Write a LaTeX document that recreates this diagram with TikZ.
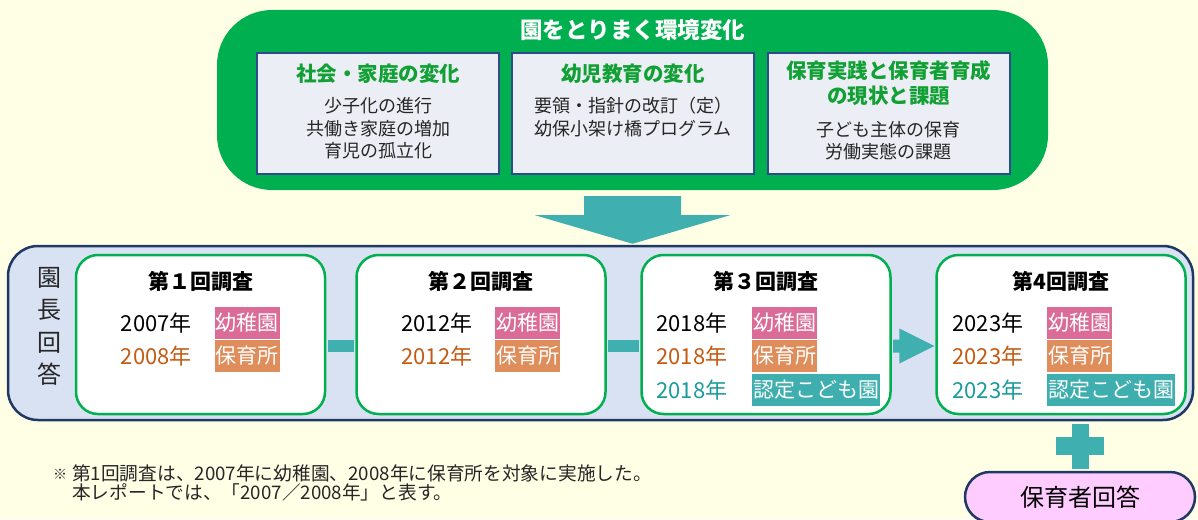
\documentclass[tikz,border=0pt]{standalone}
\usepackage{fontspec}
\setmainfont{Noto Sans CJK JP}
\usetikzlibrary{calc}
\definecolor{bg}{HTML}{FFFFE6}
\definecolor{grn}{HTML}{00B050}
\definecolor{ifill}{HTML}{EBEEF4}
\definecolor{ibord}{HTML}{2F4B8C}
\definecolor{headg}{HTML}{11A033}
\definecolor{tealc}{HTML}{40AFB0}
\definecolor{pfill}{HTML}{D9E2F3}
\definecolor{navy}{HTML}{1F3864}
\definecolor{pinkl}{HTML}{DB6C98}
\definecolor{orangel}{HTML}{DF8D5A}
\definecolor{teall}{HTML}{3FAEAE}
\definecolor{yorange}{HTML}{C55A11}
\definecolor{yteal}{HTML}{1A9B9C}
\definecolor{pillc}{HTML}{FFCCFF}
\definecolor{bodyc}{HTML}{262626}
\tikzset{
  envbox/.style={fill=grn, rounded corners=55pt, minimum width=831pt, minimum height=180pt, inner sep=0pt},
  ibox/.style={draw=ibord, line width=2pt, fill=ifill, minimum width=242pt, minimum height=121pt, inner sep=0pt},
  ihead/.style={text=headg, font=\bfseries\fontsize{20.5}{25}\selectfont, align=center, inner sep=0pt},
  ibody/.style={text=bodyc, font=\fontsize{18}{22.5}\selectfont, align=center, inner sep=0pt},
  panelbox/.style={draw=navy, line width=2.5pt, fill=pfill, rounded corners=30pt, minimum width=1185pt, minimum height=174pt, inner sep=0pt},
  sbox/.style={draw=grn, line width=2.5pt, fill=white, rounded corners=22pt, minimum width=249pt, minimum height=159pt, inner sep=0pt},
  stitle/.style={font=\bfseries\fontsize{21}{25}\selectfont, inner sep=0pt},
  yeartxt/.style={font=\fontsize{22}{25}\selectfont, anchor=west, inner sep=0pt},
  lab/.style={font=\fontsize{21}{25}\selectfont, text=white, anchor=west, inner xsep=1pt, inner ysep=0pt, minimum height=32pt},
  bar/.style={line width=12pt, tealc},
  pill/.style={draw=navy, line width=2.5pt, fill=pillc, rounded corners=25pt, minimum width=230pt, minimum height=50pt, font=\fontsize{24}{28}\selectfont},
}
\begin{document}
\begin{tikzpicture}[x=1pt,y=-1pt]
\useasboundingbox[fill=bg] (0,0) rectangle (1198,519);

% environment box
\node[envbox] (env) at (632.5,100) {};
\node[font=\bfseries\fontsize{22.5}{26}\selectfont, text=white, inner sep=0pt] (envt) at (632.5,30) {園をとりまく環境変化};

\node[ibox] (b1) at (378,113.5) {};
\node[ibox] (b2) at (633,113.5) {};
\node[ibox] (b3) at (888.5,113.5) {};

\node[ihead] (h1) at ([yshift=-22pt]b1.north) {社会・家庭の変化};
\node[ibody] (t1) at ([yshift=-76.5pt]b1.north) {少子化の進行\\共働き家庭の増加\\育児の孤立化};
\node[ihead] (h2) at ([yshift=-22pt]b2.north) {幼児教育の変化};
\node[ibody] (t2) at ([yshift=-65pt]b2.north) {要領・指針の改訂（定）\\幼保小架け橋プログラム};
\node[ihead] (h3) at ([yshift=-31.5pt]b3.north) {保育実践と保育者育成\\の現状と課題};
\node[ibody] (t3) at ([yshift=-88.5pt]b3.north) {子ども主体の保育\\労働実態の課題};

% panel
\node[panelbox] (panel) at (600.5,333) {};
\node[font=\fontsize{24}{32.5}\selectfont, align=center, inner sep=0pt, text=bodyc] (enc) at (49,326.5) {園\\長\\回\\答};

% down arrow
\coordinate (dtop) at ([yshift=-6pt]env.south);
\coordinate (dtip) at ([yshift=1pt]panel.north -| dtop);
\fill[tealc] ($(dtop)+(-48.5,0)$) -- ($(dtop)+(48.5,0)$) -- ($(dtop)+(48.5,19)$) -- ($(dtop)+(97.5,19)$) -- (dtip) -- ($(dtop)+(-97.5,19)$) -- ($(dtop)+(-48.5,19)$) -- cycle;

% survey boxes
\node[sbox] (s1) at (200.5,334.5) {};
\node[sbox] (s2) at (481,334.5) {};
\node[sbox] (s3) at (766,334.5) {};
\node[sbox] (s4) at (1061,334.5) {};

\node[stitle] (st1) at ([yshift=-28pt]s1.north) {第１回調査};
\node[stitle] (st2) at ([yshift=-28pt]s2.north) {第２回調査};
\node[stitle] (st3) at ([yshift=-28pt]s3.north) {第３回調査};
\node[stitle] (st4) at ([yshift=-28pt]s4.north) {第4回調査};

% box 1
\node[yeartxt] (y11) at ($(s1.west)+(46,-11.5)$) {2007年};
\node[yeartxt, text=yorange] (y12) at ($(s1.west)+(46,21.5)$) {2008年};
\node[lab, fill=pinkl] (l11) at ($(s1.west)+(140,-11.5)$) {幼稚園};
\node[lab, fill=orangel] (l12) at ($(s1.west)+(140,21.5)$) {保育所};
% box 2
\node[yeartxt] (y21) at ($(s2.west)+(46,-11.5)$) {2012年};
\node[yeartxt, text=yorange] (y22) at ($(s2.west)+(46,21.5)$) {2012年};
\node[lab, fill=pinkl] (l21) at ($(s2.west)+(140,-11.5)$) {幼稚園};
\node[lab, fill=orangel] (l22) at ($(s2.west)+(140,21.5)$) {保育所};
% box 3
\node[yeartxt] (y31) at ($(s3.west)+(16,-11.5)$) {2018年};
\node[yeartxt, text=yorange] (y32) at ($(s3.west)+(16,21.5)$) {2018年};
\node[yeartxt, text=yteal] (y33) at ($(s3.west)+(16,55.5)$) {2018年};
\node[lab, fill=pinkl] (l31) at ($(s3.west)+(112,-11.5)$) {幼稚園};
\node[lab, fill=orangel] (l32) at ($(s3.west)+(112,21.5)$) {保育所};
\node[lab, fill=teall] (l33) at ($(s3.west)+(112,55.5)$) {認定こども園};
% box 4
\node[yeartxt] (y41) at ($(s4.west)+(17,-11.5)$) {2023年};
\node[yeartxt, text=yorange] (y42) at ($(s4.west)+(17,21.5)$) {2023年};
\node[yeartxt, text=yteal] (y43) at ($(s4.west)+(17,55.5)$) {2023年};
\node[lab, fill=pinkl] (l41) at ($(s4.west)+(112,-11.5)$) {幼稚園};
\node[lab, fill=orangel] (l42) at ($(s4.west)+(112,21.5)$) {保育所};
\node[lab, fill=teall] (l43) at ($(s4.west)+(112,55.5)$) {認定こども園};

% connectors
\draw[bar] ($(s1.east)+(1.25,11.5)$) -- ($(s2.west)+(-1.25,11.5)$);
\draw[bar] ($(s2.east)+(1.25,11.5)$) -- ($(s3.west)+(-1.25,11.5)$);
\coordinate (ra) at ($(s3.east)+(1.25,11.5)$);
\coordinate (rb) at ($(s4.west)+(-1,11.5)$);
\fill[tealc] ($(ra)+(0,-6.5)$) -- ($(rb)+(-35,-6.5)$) -- ($(rb)+(-35,-17.5)$) -- (rb) -- ($(rb)+(-35,17.5)$) -- ($(rb)+(-35,6.5)$) -- ($(ra)+(0,6.5)$) -- cycle;

% plus and pill
\node[pill] (hog) at (1080,497) {保育者回答};
\coordinate (plusc) at ($(hog.north)!0.5!(hog.north |- panel.south)$);
\fill[tealc] ($(plusc)+(-8.5,-22.5)$) rectangle ($(plusc)+(8.5,22.5)$);
\fill[tealc] ($(plusc)+(-24,-9)$) rectangle ($(plusc)+(24,9)$);

% footnote
\node[font=\fontsize{14}{18}\selectfont, text=bodyc, inner sep=0pt, anchor=west] (kome) at (53,474) {※};
\node[font=\fontsize{18.7}{18.5}\selectfont, text=bodyc, inner sep=0pt, anchor=north west, align=left] (fn) at (72,464.5) {第1回調査は、2007年に幼稚園、2008年に保育所を対象に実施した。\\本レポートでは、「2007／2008年」と表す。};
\end{tikzpicture}
\end{document}
